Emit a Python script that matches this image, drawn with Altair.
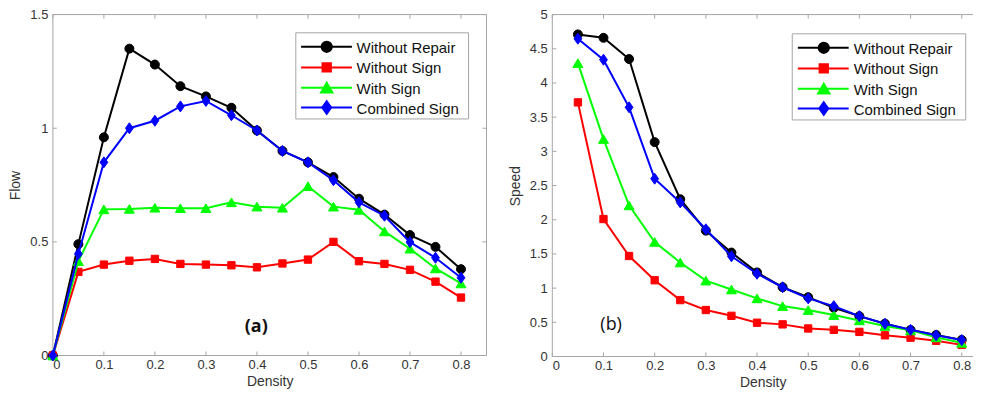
import altair as alt
import pandas as pd

# ---------------- data ----------------
density_flow = [0, 0.05, 0.1, 0.15, 0.2, 0.25, 0.3, 0.35, 0.4, 0.45, 0.5, 0.55, 0.6, 0.65, 0.7, 0.75, 0.8]
flow_without_repair = [0, 0.49, 0.96, 1.35, 1.28, 1.185, 1.14, 1.09, 0.99, 0.90, 0.85, 0.785, 0.69, 0.62, 0.53, 0.478, 0.38]
flow_without_sign = [0, 0.368, 0.40, 0.417, 0.425, 0.403, 0.40, 0.397, 0.388, 0.405, 0.422, 0.50, 0.415, 0.403, 0.377, 0.325, 0.255]
flow_with_sign = [0, 0.415, 0.643, 0.645, 0.65, 0.648, 0.648, 0.674, 0.655, 0.65, 0.745, 0.655, 0.641, 0.546, 0.47, 0.383, 0.317]
flow_combined = [0, 0.447, 0.85, 1.0, 1.033, 1.096, 1.12, 1.057, 0.99, 0.90, 0.85, 0.771, 0.674, 0.615, 0.499, 0.43, 0.342]

density_speed = [0.05, 0.1, 0.15, 0.2, 0.25, 0.3, 0.35, 0.4, 0.45, 0.5, 0.55, 0.6, 0.65, 0.7, 0.75, 0.8]
speed_without_repair = [4.71, 4.66, 4.35, 3.135, 2.30, 1.84, 1.52, 1.23, 1.013, 0.868, 0.712, 0.59, 0.48, 0.388, 0.315, 0.243]
speed_without_sign = [3.716, 2.01, 1.47, 1.115, 0.825, 0.68, 0.595, 0.494, 0.47, 0.41, 0.39, 0.36, 0.31, 0.275, 0.23, 0.17]
speed_with_sign = [4.29, 3.18, 2.21, 1.675, 1.375, 1.11, 0.98, 0.85, 0.737, 0.679, 0.606, 0.528, 0.446, 0.382, 0.28, 0.2]
speed_combined = [4.647, 4.34, 3.644, 2.60, 2.253, 1.86, 1.465, 1.21, 1.013, 0.85, 0.737, 0.59, 0.48, 0.39, 0.31, 0.24]

series_names = ["Without Repair", "Without Sign", "With Sign", "Combined Sign"]
series_colors = ["#000000", "#ff0000", "#00ff00", "#0000ff"]
series_shapes = ["circle", "square", "triangle-up", "M0,-1.1L0.78,0L0,1.1L-0.78,0Z"]
series_sizes = [81, 54, 100, 100]

x_ticks = [0, 0.1, 0.2, 0.3, 0.4, 0.5, 0.6, 0.7, 0.8]
flow_ticks = [0, 0.5, 1, 1.5]
speed_ticks = [0, 0.5, 1, 1.5, 2, 2.5, 3, 3.5, 4, 4.5, 5]

FRAME = "#a6a6a6"
FONT = "Liberation Sans"


def panel(xvals, series, xdomain, ydomain, yticks, ytitle, W, H, leg, tag, tag_xy, tag_weight, right_frame):
    X = alt.X("d:Q", scale=alt.Scale(domain=xdomain, nice=False, zero=False),
              axis=alt.Axis(values=x_ticks, format="~g", title="Density", titlePadding=3, labelPadding=3))
    Y = alt.Y("v:Q", scale=alt.Scale(domain=ydomain, nice=False, zero=False),
              axis=alt.Axis(values=yticks, format="~g", title=ytitle, titlePadding=7, labelPadding=5))
    layers = []
    dummy = pd.DataFrame({"k": [0]})
    # frame
    frame_specs = [(0, W, 0, 0), (0, W, H, H), (0, 0, 0, H)]
    if right_frame:
        frame_specs.append((W, W, 0, H))
    for x1, x2, y1, y2 in frame_specs:
        layers.append(alt.Chart(dummy).mark_rule(color=FRAME, strokeWidth=1).encode(
            x=alt.value(x1), x2=alt.value(x2), y=alt.value(y1), y2=alt.value(y2)))
    # inward ticks
    xt = pd.DataFrame({"d": x_ticks})
    yt = pd.DataFrame({"v": yticks})
    layers.append(alt.Chart(xt).mark_rule(color=FRAME).encode(x=X, y=alt.value(H), y2=alt.value(H - 4)))
    layers.append(alt.Chart(xt).mark_rule(color=FRAME).encode(x=X, y=alt.value(0), y2=alt.value(4)))
    layers.append(alt.Chart(yt).mark_rule(color=FRAME).encode(y=Y, x=alt.value(0), x2=alt.value(4)))
    if right_frame:
        layers.append(alt.Chart(yt).mark_rule(color=FRAME).encode(y=Y, x=alt.value(W), x2=alt.value(W - 4)))
    # data
    for name, vals, col, shp, sz in zip(series_names, series, series_colors, series_shapes, series_sizes):
        df = pd.DataFrame({"d": xvals, "v": vals})
        layers.append(alt.Chart(df).mark_line(color=col, strokeWidth=2).encode(x=X, y=Y))
        layers.append(alt.Chart(df).mark_point(filled=True, color=col, opacity=1, shape=shp, size=sz,
                                                stroke=col, strokeWidth=1).encode(x=X, y=Y))
    # legend
    bx1, bx2, by1, by2, lx1, lx2, mx, tx, rows = leg
    layers.append(alt.Chart(dummy).mark_rect(fill="white", stroke=FRAME, strokeWidth=1).encode(
        x=alt.value(bx1), x2=alt.value(bx2), y=alt.value(by1), y2=alt.value(by2)))
    for name, col, shp, sz, ry in zip(series_names, series_colors, series_shapes, series_sizes, rows):
        nd = pd.DataFrame({"name": [name]})
        layers.append(alt.Chart(nd).mark_rule(color=col, strokeWidth=2).encode(
            x=alt.value(lx1), x2=alt.value(lx2), y=alt.value(ry)))
        layers.append(alt.Chart(nd).mark_point(filled=True, color=col, opacity=1, shape=shp, size=sz * 1.3,
                                                stroke=col).encode(x=alt.value(mx), y=alt.value(ry)))
        layers.append(alt.Chart(nd).mark_text(align="left", baseline="middle", font=FONT, fontSize=15,
                                               color="#111").encode(
            x=alt.value(tx), y=alt.value(ry + 1), text="name:N"))
    # tag
    layers.append(alt.Chart(pd.DataFrame({"t": [tag]})).mark_text(
        font="Open Sans", fontSize=18, fontWeight=tag_weight, color="#111", baseline="middle", align="center").encode(
        x=alt.value(tag_xy[0]), y=alt.value(tag_xy[1]), text="t:N"))
    return alt.layer(*layers).properties(width=W, height=H)


left = panel(density_flow,
             [flow_without_repair, flow_without_sign, flow_with_sign, flow_combined],
             [0, 0.85], [0, 1.5], flow_ticks, "Flow", 435, 342,
             (243.7, 417, 18.3, 104.7, 249, 300, 274.7, 304.7, [32.3, 53, 73.3, 93.3]),
             "(a)", (204, 313), "bold", True)

right = panel(density_speed,
              [speed_without_repair, speed_without_sign, speed_with_sign, speed_combined],
              [0, 0.822], [0, 5], speed_ticks, "Speed", 422, 343,
              (240.7, 414.7, 19.3, 105.7, 246.3, 297.3, 272.3, 302.3, [33.3, 54, 74.3, 94.3]),
              "(b)", (59, 311), "normal", False)

chart = alt.hconcat(left, right, spacing=20).properties(
    padding={"left": 0, "top": 0, "right": 0, "bottom": 0}
).configure_view(stroke=None).configure_axis(
    grid=False, ticks=False, tickSize=0, domain=False,
    labelFont=FONT, labelFontSize=13, labelColor="#333",
    titleFont=FONT, titleFontSize=14, titleFontWeight="normal", titleColor="#333"
)

chart.save("out.html", embed_options={"renderer": "svg", "actions": False})
